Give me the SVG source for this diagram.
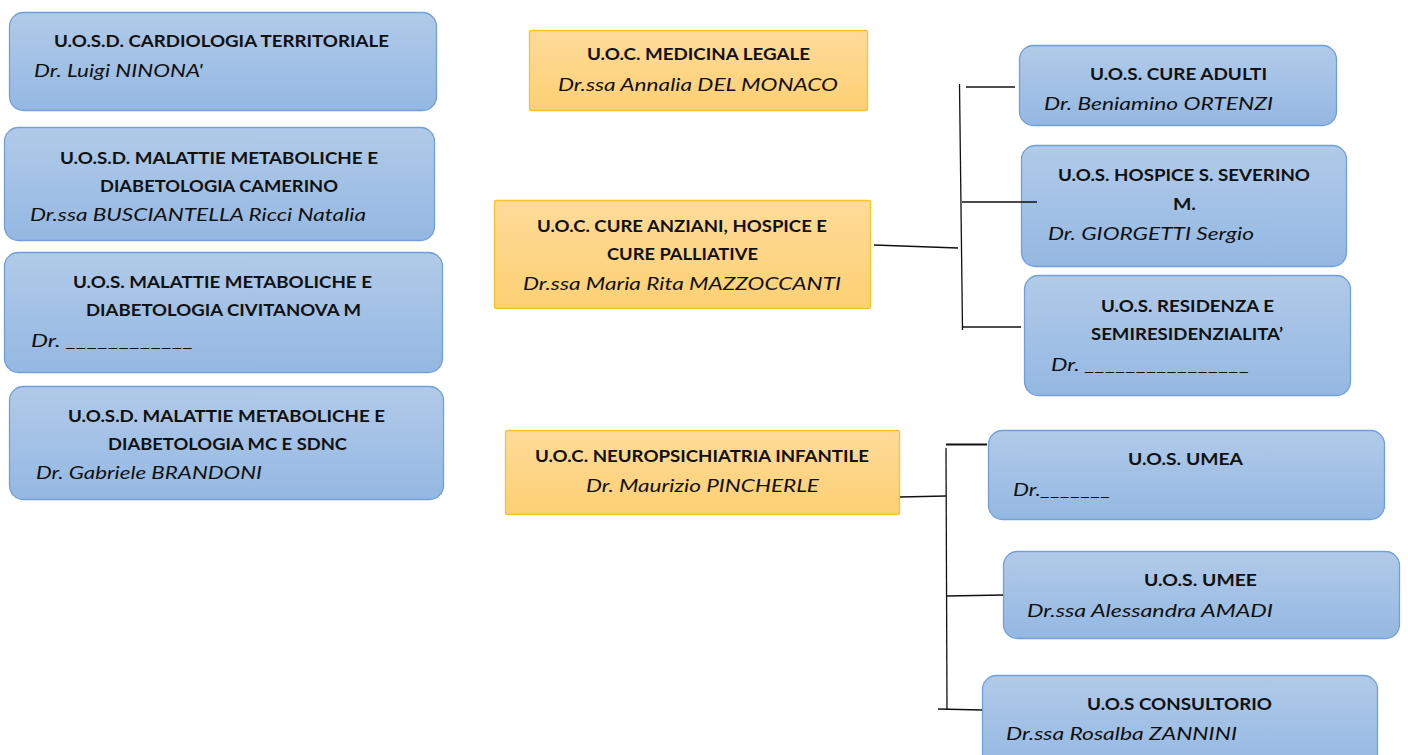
<svg xmlns="http://www.w3.org/2000/svg" width="1408" height="755" viewBox="0 0 1408 755">
<defs>
<linearGradient id="gb" x1="0" y1="0" x2="0" y2="1"><stop offset="0" stop-color="#b1cae9"/><stop offset="1" stop-color="#94b8e2"/></linearGradient>
<linearGradient id="go" x1="0" y1="0" x2="0" y2="1"><stop offset="0" stop-color="#fedb9a"/><stop offset="1" stop-color="#fdd073"/></linearGradient>
</defs>
<style>
.b{fill:url(#gb);stroke:#6fa0da;stroke-width:1.3}
.o{fill:url(#go);stroke:#fcc22b;stroke-width:1.3}
text{font-family:Lato,"Open Sans","Liberation Sans",sans-serif;font-size:17.5px;fill:#111}
.t{font-weight:bold;text-anchor:middle}
.n{font-style:italic}
.nc{font-style:italic;text-anchor:middle}
.c{stroke:#111;stroke-width:1.3;fill:none}
</style>
<rect width="1408" height="755" fill="#fff"/>
<g id="n-cardiologia"><rect class="b" x="9.5" y="12.5" width="427" height="98" rx="14"/>
<text class="t" x="221.5" y="46.5" textLength="335" lengthAdjust="spacingAndGlyphs">U.O.S.D. CARDIOLOGIA TERRITORIALE</text>
<text class="n" x="34" y="76.5" textLength="169" lengthAdjust="spacingAndGlyphs">Dr. Luigi NINONA'</text></g>
<g id="n-camerino"><rect class="b" x="4.5" y="127.5" width="430" height="113" rx="14"/>
<text class="t" x="219" y="163.5" textLength="318" lengthAdjust="spacingAndGlyphs">U.O.S.D. MALATTIE METABOLICHE E</text>
<text class="t" x="219" y="191.5" textLength="238" lengthAdjust="spacingAndGlyphs">DIABETOLOGIA CAMERINO</text>
<text class="n" x="30" y="220.5" textLength="336" lengthAdjust="spacingAndGlyphs">Dr.ssa BUSCIANTELLA Ricci Natalia</text></g>
<g id="n-civitanova"><rect class="b" x="4.5" y="252.5" width="438" height="120" rx="14"/>
<text class="t" x="222.5" y="288" textLength="299" lengthAdjust="spacingAndGlyphs">U.O.S. MALATTIE METABOLICHE E</text>
<text class="t" x="223.5" y="316" textLength="275" lengthAdjust="spacingAndGlyphs">DIABETOLOGIA CIVITANOVA M</text>
<text class="n" x="31" y="347" textLength="163" lengthAdjust="spacingAndGlyphs">Dr. ____________</text></g>
<g id="n-mcsdnc"><rect class="b" x="9.5" y="386.5" width="434" height="113" rx="14"/>
<text class="t" x="226.5" y="422" textLength="317" lengthAdjust="spacingAndGlyphs">U.O.S.D. MALATTIE METABOLICHE E</text>
<text class="t" x="227.5" y="450" textLength="239" lengthAdjust="spacingAndGlyphs">DIABETOLOGIA MC E SDNC</text>
<text class="n" x="36" y="478.5" textLength="226" lengthAdjust="spacingAndGlyphs">Dr. Gabriele BRANDONI</text></g>
<g id="n-medicina-legale"><rect class="o" x="529.5" y="30.5" width="338" height="80" rx="2"/>
<text class="t" x="698.5" y="60" textLength="223" lengthAdjust="spacingAndGlyphs">U.O.C. MEDICINA LEGALE</text>
<text class="nc" x="698" y="90.5" textLength="280" lengthAdjust="spacingAndGlyphs">Dr.ssa Annalia DEL MONACO</text></g>
<g id="n-cure-anziani"><rect class="o" x="494.5" y="200.5" width="376" height="108" rx="2"/>
<text class="t" x="682" y="232" textLength="290" lengthAdjust="spacingAndGlyphs">U.O.C. CURE ANZIANI, HOSPICE E</text>
<text class="t" x="682.5" y="260" textLength="151" lengthAdjust="spacingAndGlyphs">CURE PALLIATIVE</text>
<text class="nc" x="682" y="289.5" textLength="318" lengthAdjust="spacingAndGlyphs">Dr.ssa Maria Rita MAZZOCCANTI</text></g>
<g id="n-neuropsichiatria"><rect class="o" x="505.5" y="430.5" width="394" height="84" rx="2"/>
<text class="t" x="702" y="461.5" textLength="334" lengthAdjust="spacingAndGlyphs">U.O.C. NEUROPSICHIATRIA INFANTILE</text>
<text class="nc" x="702.5" y="491.5" textLength="233" lengthAdjust="spacingAndGlyphs">Dr. Maurizio PINCHERLE</text></g>
<g id="n-cure-adulti"><rect class="b" x="1019.5" y="45.5" width="317" height="80" rx="14"/>
<text class="t" x="1178.5" y="80" textLength="177" lengthAdjust="spacingAndGlyphs">U.O.S. CURE ADULTI</text>
<text class="n" x="1044" y="110" textLength="229" lengthAdjust="spacingAndGlyphs">Dr. Beniamino ORTENZI</text></g>
<g id="n-hospice"><rect class="b" x="1021.5" y="145.5" width="325" height="121" rx="14"/>
<text class="t" x="1184" y="181" textLength="252" lengthAdjust="spacingAndGlyphs">U.O.S. HOSPICE S. SEVERINO</text>
<text class="t" x="1184.5" y="210" textLength="23" lengthAdjust="spacingAndGlyphs">M.</text>
<text class="n" x="1048" y="239.5" textLength="206" lengthAdjust="spacingAndGlyphs">Dr. GIORGETTI Sergio</text></g>
<g id="n-residenza"><rect class="b" x="1024.5" y="275.5" width="326" height="120" rx="14"/>
<text class="t" x="1187.5" y="312" textLength="173" lengthAdjust="spacingAndGlyphs">U.O.S. RESIDENZA E</text>
<text class="t" x="1187" y="340" textLength="192" lengthAdjust="spacingAndGlyphs">SEMIRESIDENZIALITA’</text>
<text class="n" x="1051" y="371" textLength="199" lengthAdjust="spacingAndGlyphs">Dr. ________________</text></g>
<g id="n-umea"><rect class="b" x="988.5" y="430.5" width="396" height="89" rx="14"/>
<text class="t" x="1185.5" y="465" textLength="115" lengthAdjust="spacingAndGlyphs">U.O.S. UMEA</text>
<text class="n" x="1013" y="495.5" textLength="98" lengthAdjust="spacingAndGlyphs">Dr._______</text></g>
<g id="n-umee"><rect class="b" x="1003.5" y="551.5" width="396" height="87" rx="14"/>
<text class="t" x="1200.5" y="586" textLength="113" lengthAdjust="spacingAndGlyphs">U.O.S. UMEE</text>
<text class="n" x="1027" y="616.5" textLength="246" lengthAdjust="spacingAndGlyphs">Dr.ssa Alessandra AMADI</text></g>
<g id="n-consultorio"><rect class="b" x="982.5" y="675.5" width="395" height="95" rx="14"/>
<text class="t" x="1179.5" y="710" textLength="185" lengthAdjust="spacingAndGlyphs">U.O.S CONSULTORIO</text>
<text class="n" x="1006" y="739.5" textLength="231" lengthAdjust="spacingAndGlyphs">Dr.ssa Rosalba ZANNINI</text></g>
<g id="connectors">
<line class="c" x1="874" y1="245" x2="958" y2="248"/>
<line class="c" x1="959.5" y1="84" x2="962.5" y2="330"/>
<line class="c" x1="966" y1="87" x2="1015" y2="87"/>
<line class="c" x1="962" y1="202" x2="1037" y2="202"/>
<line class="c" x1="963" y1="327" x2="1021" y2="327"/>
<line class="c" x1="900" y1="497" x2="946" y2="496"/>
<line class="c" x1="946" y1="448" x2="947" y2="710"/>
<line class="c" x1="946" y1="444.5" x2="987" y2="444.5" style="stroke-width:2"/>
<line class="c" x1="947" y1="596" x2="1003" y2="595"/>
<line class="c" x1="938" y1="709" x2="982" y2="710"/>
</g>
</svg>
